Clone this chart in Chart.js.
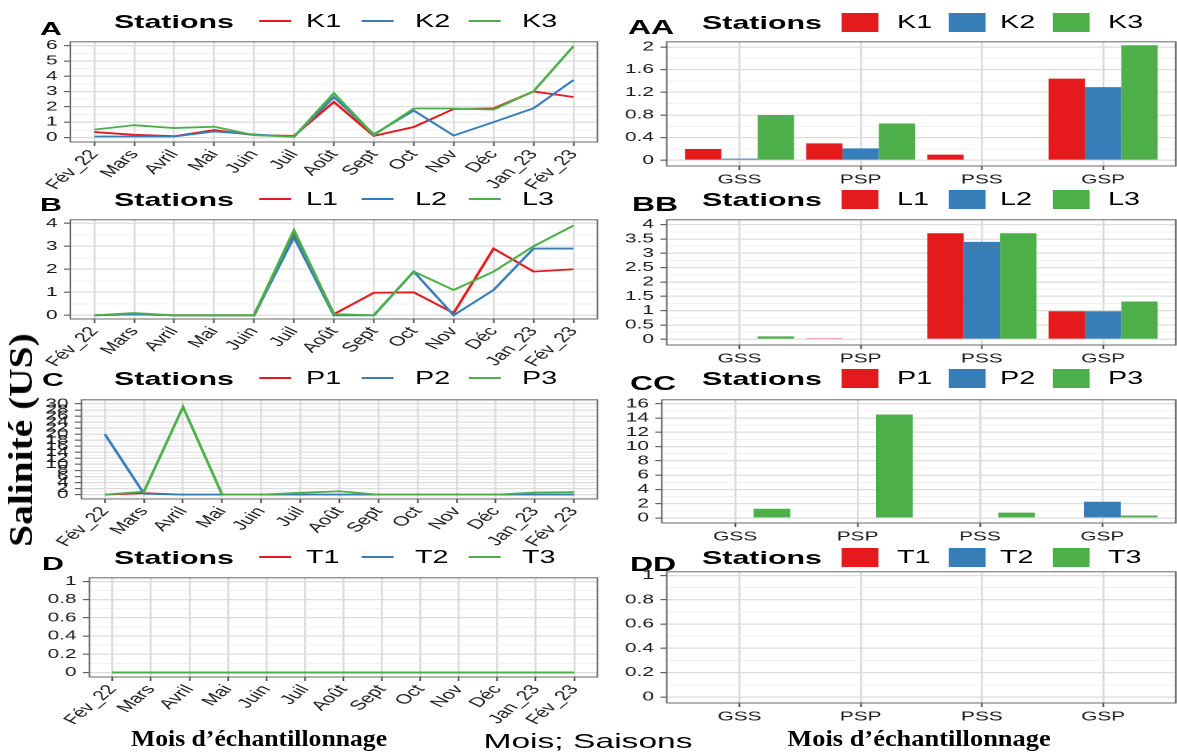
<!DOCTYPE html>
<html>
<head>
<meta charset="utf-8">
<script src="https://cdn.jsdelivr.net/npm/chart.js@4.4.1/dist/chart.umd.min.js"></script>
<style>
  body { margin: 0; background: #fff; width: 1177px; height: 753px; overflow: hidden; position: relative; }
  #wide { position: absolute; left: 0; top: 0; width: 736px; height: 753px; transform: scaleX(1.6); transform-origin: 0 0;
          font-family: 'Liberation Sans', Arial, sans-serif; }
  #wide canvas, #wide .t, #wide .key { position: absolute; }
  .t { white-space: nowrap; line-height: 1; color: #000; }
  .serif { position: absolute; font-family: 'Liberation Serif', 'Times New Roman', serif; font-weight: bold;
           color: #000; white-space: nowrap; line-height: 1; }
</style>
</head>
<body>
<div id="wide"></div>
<script>
"use strict";

// 1: data
const months = ['Fév_22', 'Mars', 'Avril', 'Mai', 'Juin', 'Juil', 'Août', 'Sept', 'Oct', 'Nov', 'Déc', 'Jan_23', 'Fév_23'];
const seasons = ['GSS', 'PSP', 'PSS', 'GSP'];

const stationsK = ['K1', 'K2', 'K3'];
const stationsL = ['L1', 'L2', 'L3'];
const stationsP = ['P1', 'P2', 'P3'];
const stationsT = ['T1', 'T2', 'T3'];

// monthly salinity (line panels)
const monthK1 = [0.35, 0.17, 0.08, 0.48, 0.15, 0.1, 2.32, 0.1, 0.68, 1.86, 1.9, 3.0, 2.64];
const monthK2 = [0.06, 0.06, 0.06, 0.39, 0.2, 0.04, 2.64, 0.2, 1.76, 0.12, 1.0, 1.9, 3.75];
const monthK3 = [0.51, 0.8, 0.61, 0.7, 0.15, 0.04, 2.89, 0.15, 1.89, 1.89, 1.82, 3.01, 5.96];

const monthL1 = [0, 0.05, 0, 0, 0, 3.55, 0.05, 0.98, 1.0, 0.1, 2.9, 1.9, 2.0];
const monthL2 = [0, 0.05, 0, 0, 0, 3.4, 0, 0, 1.9, 0, 1.1, 2.9, 2.9];
const monthL3 = [0, 0.1, 0, 0, 0, 3.7, 0.05, 0, 1.9, 1.1, 1.9, 3.0, 3.9];

const monthP1 = [0, 0.5, 0, 0, 0, 0, 0, 0, 0, 0, 0, 0, 0];
const monthP2 = [20, 0.3, 0, 0, 0, 0, 0, 0, 0, 0, 0, 0, 0];
const monthP3 = [0, 1.0, 29, 0, 0, 0.6, 1.1, 0, 0, 0, 0, 0.7, 0.8];

const monthT1 = [0, 0, 0, 0, 0, 0, 0, 0, 0, 0, 0, 0, 0];
const monthT2 = [0, 0, 0, 0, 0, 0, 0, 0, 0, 0, 0, 0, 0];
const monthT3 = [0, 0, 0, 0, 0, 0, 0, 0, 0, 0, 0, 0, 0];

// seasonal salinity (bar panels)
const seasonK1 = [0.2, 0.3, 0.1, 1.44];
const seasonK2 = [0.03, 0.21, 0, 1.29];
const seasonK3 = [0.8, 0.65, 0, 2.03];

const seasonL1 = [0, 0.01, 3.7, 0.98];
const seasonL2 = [0, 0, 3.4, 0.98];
const seasonL3 = [0.1, 0, 3.7, 1.32];

const seasonP1 = [0, 0, 0, 0];
const seasonP2 = [0, 0, 0, 2.27];
const seasonP3 = [1.3, 14.5, 0.75, 0.35];

const seasonT1 = [0, 0, 0, 0];
const seasonT2 = [0, 0, 0, 0];
const seasonT3 = [0, 0, 0, 0];

// y tick labels
const ticksA = [0, 1, 2, 3, 4, 5, 6];
const ticksAA = [0, 0.4, 0.8, 1.2, 1.6, 2];
const ticksB = [0, 1, 2, 3, 4];
const ticksBB = [0, 0.5, 1, 1.5, 2, 2.5, 3, 3.5, 4];
const ticksC = [0, 2, 4, 6, 8, 10, 12, 14, 16, 18, 20, 22, 24, 26, 28, 30];
const ticksCC = [0, 2, 4, 6, 8, 10, 12, 14, 16];
const ticksD = [0, 0.2, 0.4, 0.6, 0.8, 1];
const ticksDD = [0, 0.2, 0.4, 0.6, 0.8, 1];

// 2: look
const S = 1.6; // the whole figure is stretched sideways
const colors = ['#E41A1C', '#377EB8', '#4DAF4A'];
const wide = document.getElementById('wide');

// draws the grey frame round the panel, like ggplot does
const panelBorder = {
  id: 'panelBorder',
  afterDatasetsDraw(chart) {
    const a = chart.chartArea;
    const ctx = chart.ctx;
    ctx.save();
    ctx.strokeStyle = '#666';
    ctx.lineWidth = 1;
    ctx.strokeRect(a.left, a.top, a.right - a.left, a.bottom - a.top);
    ctx.restore();
  }
};

function text(txt, x, cy, size, weight, anchor) {
  const d = document.createElement('div');
  d.className = 't';
  d.textContent = txt;
  d.style.fontSize = size + 'px';
  d.style.fontWeight = weight;
  d.style.left = (x / S) + 'px';
  d.style.top = (cy - 0.49 * size) + 'px';
  if (anchor === 'center') d.style.transform = 'translateX(-50%)';
  wide.appendChild(d);
}

function key(x, cy, w, h, color) {
  const d = document.createElement('div');
  d.className = 'key';
  d.style.left = (x / S) + 'px';
  d.style.width = (w / S) + 'px';
  d.style.top = (cy - h / 2) + 'px';
  d.style.height = h + 'px';
  d.style.background = color;
  wide.appendChild(d);
}

function legend(side, cy, names) {
  text('Stations', side === 'L' ? 114 : 702, cy, 19, 'bold');
  const keyX = side === 'L' ? [259, 362, 469] : [842, 948, 1053];
  const labX = side === 'L' ? [306, 415, 522] : [897, 1000, 1108];
  names.forEach((n, i) => {
    if (side === 'L') key(keyX[i], cy, 32, 1.8, colors[i]);
    else key(keyX[i], cy, 37, 19, colors[i]);
    text(n, labX[i], cy, 18, 'normal');
  });
}

function yTicks(major, lo, hi) {
  const out = major.map(v => ({ value: v }));
  const step = major[1] - major[0];
  for (let k = -1; k < major.length; k++) {
    const v = major[0] + (k + 0.5) * step;
    if (v >= lo && v <= hi) out.push({ value: v, minor: true });
  }
  return out.sort((a, b) => a.value - b.value);
}

const gridOpts = {
  color: c => (c.tick && c.tick.minor ? '#ececec' : '#dcdcdc'),
  lineWidth: c => (c.tick && c.tick.minor ? 0.8 : 1.3),
  tickColor: c => (c.tick && c.tick.minor ? 'rgba(0,0,0,0)' : '#444'),
  tickWidth: 1,
  tickLength: 4,
  offset: false
};
const tickFont = { family: 'Liberation Sans', size: 13 };
const monthFont = { family: 'Liberation Sans', size: 13.5 };

// 3: one panel = one chart
function panel(o) {
  const [l, r, t, b] = o.plot;
  const [x0, x1, y0, y1] = o.canvas;
  const cv = document.createElement('canvas');
  const w = Math.round((x1 - x0) / S);
  const h = y1 - y0;
  cv.width = w;
  cv.height = h;
  cv.style.left = (x0 / S) + 'px';
  cv.style.top = y0 + 'px';
  wide.appendChild(cv);

  const yw = (l - x0) / S;
  const padR = w - (r - x0) / S;
  const padT = t - y0;
  const xh = y1 - b;
  const isLine = o.type === 'line';

  const datasets = o.series.map((vals, i) => {
    const ds = {
      label: o.names[i],
      data: vals.map((v, j) => ({ x: j + 1, y: v }))
    };
    if (isLine) {
      ds.borderColor = colors[i];
      ds.borderWidth = 1.8;
      ds.pointRadius = 0;
      ds.order = o.series.length - i; // last station drawn on top
    } else {
      ds.backgroundColor = colors[i];
      ds.borderWidth = 0;
      ds.categoryPercentage = 0.9;
      ds.barPercentage = 1;
    }
    return ds;
  });

  new Chart(cv, {
    type: o.type,
    data: { datasets },
    plugins: [panelBorder],
    options: {
      responsive: false,
      animation: false,
      devicePixelRatio: 2,
      events: [],
      layout: { padding: { top: padT, right: padR, left: 0, bottom: 0 }, autoPadding: false },
      plugins: { legend: { display: false }, tooltip: { enabled: false } },
      scales: {
        x: {
          type: 'linear',
          min: 0.4,
          max: o.cats.length + 0.6,
          bounds: 'data',
          offset: false,
          grid: gridOpts,
          border: { display: false },
          afterBuildTicks: s => { s.ticks = o.cats.map((c, i) => ({ value: i + 1 })); },
          afterFit: s => { s.height = xh; },
          ticks: {
            autoSkip: false,
            maxRotation: isLine ? 53 : 0,
            minRotation: isLine ? 53 : 0,
            padding: isLine ? 1 : 2,
            color: '#1a1a1a',
            font: isLine ? monthFont : tickFont,
            callback: v => o.cats[Math.round(v) - 1]
          }
        },
        y: {
          type: 'linear',
          min: o.ymin,
          max: o.ymax,
          bounds: 'data',
          grid: gridOpts,
          border: { display: false },
          afterBuildTicks: s => { s.ticks = yTicks(o.ticks, o.ymin, o.ymax); },
          afterFit: s => { s.width = yw; },
          ticks: {
            autoSkip: false,
            padding: 4,
            color: '#1a1a1a',
            font: tickFont,
            callback: (v, i, ts) => (ts[i].minor ? '' : String(v))
          }
        }
      }
    }
  });
}

// left column: monthly lines
panel({ type: 'line', cats: months, names: stationsK, series: [monthK1, monthK2, monthK3], ticks: ticksA,
  ymin: -0.3, ymax: 6.25, plot: [70, 597, 36, 142], canvas: [22, 600, 30, 192] });
panel({ type: 'line', cats: months, names: stationsL, series: [monthL1, monthL2, monthL3], ticks: ticksB,
  ymin: -0.16, ymax: 4.15, plot: [70, 597, 214, 319], canvas: [22, 600, 208, 370] });
panel({ type: 'line', cats: months, names: stationsP, series: [monthP1, monthP2, monthP3], ticks: ticksC,
  ymin: -1.45, ymax: 31.35, plot: [81, 597, 393, 499], canvas: [22, 600, 388, 550] });
panel({ type: 'line', cats: months, names: stationsT, series: [monthT1, monthT2, monthT3], ticks: ticksD,
  ymin: -0.05, ymax: 1.04, plot: [89, 597, 572, 677], canvas: [22, 600, 566, 728] });

// right column: seasonal bars
panel({ type: 'bar', cats: seasons, names: stationsK, series: [seasonK1, seasonK2, seasonK3], ticks: ticksAA,
  ymin: -0.1, ymax: 2.09, plot: [667, 1176, 36, 166], canvas: [605, 1177, 30, 185] });
panel({ type: 'bar', cats: seasons, names: stationsL, series: [seasonL1, seasonL2, seasonL3], ticks: ticksBB,
  ymin: -0.2, ymax: 4.17, plot: [667, 1176, 214, 345], canvas: [605, 1177, 208, 365] });
panel({ type: 'bar', cats: seasons, names: stationsP, series: [seasonP1, seasonP2, seasonP3], ticks: ticksCC,
  ymin: -0.7, ymax: 16.55, plot: [662, 1176, 394, 523], canvas: [605, 1177, 388, 545] });
panel({ type: 'bar', cats: seasons, names: stationsT, series: [seasonT1, seasonT2, seasonT3], ticks: ticksDD,
  ymin: -0.05, ymax: 1.03, plot: [667, 1176, 566, 703], canvas: [605, 1177, 560, 722] });

// 4: legends, panel letters and axis titles
legend('L', 21, stationsK);
legend('L', 199, stationsL);
legend('L', 378, stationsP);
legend('L', 557, stationsT);
legend('R', 22, stationsK);
legend('R', 199, stationsL);
legend('R', 378, stationsP);
legend('R', 557, stationsT);

text('A', 40, 28, 19, 'bold');
text('B', 40, 204, 19, 'bold');
text('C', 42, 379, 19, 'bold');
text('D', 42, 563, 19, 'bold');
text('AA', 628, 27, 20, 'bold');
text('BB', 632, 204, 20, 'bold');
text('CC', 630, 383, 20, 'bold');
text('DD', 630, 564, 20, 'bold');

text('Mois; Saisons', 588, 740, 21, 'normal', 'center');

function serif(txt, cx, cy, size, transform) {
  const d = document.createElement('div');
  d.className = 'serif';
  d.textContent = txt;
  d.style.fontSize = size + 'px';
  d.style.left = cx + 'px';
  d.style.top = cy + 'px';
  d.style.transform = transform;
  document.body.appendChild(d);
}
serif('Mois d’échantillonnage', 259, 738, 24, 'translate(-50%, -50%) scaleX(1.07)');
serif('Mois d’échantillonnage', 919, 738, 24, 'translate(-50%, -50%) scaleX(1.1)');
serif('Salinité (US)', 21, 440, 34, 'translate(-50%, -50%) rotate(-90deg) scaleX(1.16)');
</script>
</body>
</html>
